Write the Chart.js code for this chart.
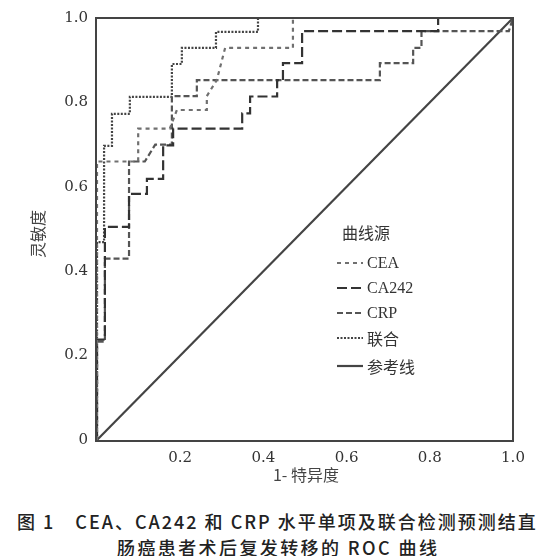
<!DOCTYPE html>
<html>
<head>
<meta charset="utf-8">
<script src="https://cdn.jsdelivr.net/npm/chart.js@4.4.1/dist/chart.umd.min.js"></script>
<style>
  body { margin: 0; background: #fff; width: 537px; height: 556px; position: relative; overflow: hidden; }
  #wrap { position: absolute; left: 0; top: 0; width: 537px; height: 490px; }
  .cap { position: absolute; font-family: "Noto Sans CJK SC", sans-serif; font-size: 18px; font-weight: 500;
         color: #222; white-space: pre; line-height: 20px; letter-spacing: 2px; }
</style>
</head>
<body>
<div id="wrap"><canvas id="roc" width="537" height="490"></canvas></div>
<div class="cap" id="cap1" style="left:17px; top:511px;">图 1　CEA、CA242 和 CRP 水平单项及联合检测预测结直</div>
<div class="cap" id="cap2" style="left:117px; top:537px; letter-spacing:2.4px;">肠癌患者术后复发转移的 ROC 曲线</div>
<script>
// ROC points (1-specificity, sensitivity)
const ceaX = [0, 0, 0.099, 0.099, 0.175, 0.192, 0.264, 0.264, 0.288, 0.308, 0.471, 0.471, 1];
const ceaY = [0, 0.66, 0.66, 0.738, 0.738, 0.782, 0.782, 0.815, 0.853, 0.929, 0.929, 1, 1];

const ca242X = [0, 0, 0.019, 0.019, 0.077, 0.077, 0.12, 0.12, 0.159, 0.159, 0.183, 0.183, 0.349, 0.349,
                0.368, 0.368, 0.433, 0.433, 0.447, 0.447, 0.493, 0.493, 0.82, 0.82, 1];
const ca242Y = [0, 0.238, 0.238, 0.505, 0.505, 0.583, 0.583, 0.619, 0.619, 0.698, 0.698, 0.738, 0.738, 0.774,
                0.774, 0.814, 0.814, 0.853, 0.853, 0.893, 0.893, 0.969, 0.969, 1, 1];

const crpX = [0, 0, 0.019, 0.019, 0.077, 0.077, 0.115, 0.14, 0.18, 0.18, 0.24, 0.24, 0.68, 0.68,
              0.76, 0.76, 0.78, 0.78, 0.99, 1];
const crpY = [0, 0.233, 0.233, 0.43, 0.43, 0.66, 0.66, 0.70, 0.70, 0.815, 0.815, 0.853, 0.853, 0.893,
              0.893, 0.929, 0.929, 0.969, 0.969, 1];

const combX = [0, 0, 0.017, 0.017, 0.036, 0.036, 0.079, 0.079, 0.18, 0.18, 0.204, 0.204, 0.286, 0.286, 0.387, 0.387, 1];
const combY = [0, 0.469, 0.469, 0.697, 0.697, 0.773, 0.773, 0.813, 0.813, 0.891, 0.891, 0.929, 0.929, 0.967, 0.967, 1, 1];

const refX = [0, 1];
const refY = [0, 1];

const seriesNames = ['CEA', 'CA242', 'CRP', '联合', '参考线'];
const xTicks = [0.2, 0.4, 0.6, 0.8, 1.0];
const yTicks = [0, 0.2, 0.4, 0.6, 0.8, 1.0];

const toPoints = (xs, ys) => xs.map((x, i) => ({ x: x, y: ys[i] }));

const styles = [
    { color: '#707070', dash: [4, 4] },
    { color: '#333', dash: [10, 4] },
    { color: '#555', dash: [6, 3] },
    { color: '#444', dash: [2, 1.5] },
    { color: '#444', dash: [] }
];

const pointSets = [
    toPoints(ceaX, ceaY),
    toPoints(ca242X, ca242Y),
    toPoints(crpX, crpY),
    toPoints(combX, combY),
    toPoints(refX, refY)
];

const datasets = pointSets.map((pts, i) => ({
    label: seriesNames[i],
    data: pts,
    borderColor: styles[i].color,
    borderDash: styles[i].dash,
    borderWidth: 2.2,
    pointRadius: 0,
    tension: 0,
    fill: false,
    clip: false,
    order: i === 4 ? 10 : i
}));

// frame, legend box and axis titles
const extras = {
    id: 'extras',
    afterDatasetsDraw(chart) {
        const { ctx, chartArea: a } = chart;
        ctx.save();
        ctx.setLineDash([]);
        ctx.strokeStyle = '#444';
        ctx.lineWidth = 2;
        ctx.strokeRect(a.left - 1, a.top, a.right - a.left + 1, a.bottom - a.top + 1);

        ctx.fillStyle = '#333';
        ctx.textBaseline = 'middle';
        ctx.textAlign = 'left';
        ctx.font = '16px "Noto Sans CJK SC"';
        ctx.fillText('曲线源', 342, 233);

        const rows = [263, 288, 313, 338, 366];
        seriesNames.forEach((name, i) => {
            ctx.strokeStyle = styles[i].color;
            ctx.setLineDash(styles[i].dash);
            ctx.lineWidth = 2.2;
            ctx.beginPath();
            ctx.moveTo(337, rows[i]);
            ctx.lineTo(363, rows[i]);
            ctx.stroke();
            ctx.setLineDash([]);
            ctx.font = /[A-Z]/.test(name) ? '16px "Liberation Serif"' : '16px "Noto Sans CJK SC"';
            ctx.fillText(name, 367, rows[i] + 1);
        });

        ctx.font = '16px "Noto Sans CJK SC"';
        ctx.fillStyle = '#444';
        ctx.textAlign = 'center';
        ctx.fillText('1- 特异度', 306, 475);

        ctx.translate(38, 234);
        ctx.rotate(-Math.PI / 2);
        ctx.fillText('灵敏度', 0, 0);
        ctx.restore();
    }
};

new Chart(document.getElementById('roc'), {
    type: 'line',
    data: { datasets: datasets },
    options: {
        responsive: false,
        animation: false,
        layout: { padding: { top: 18, right: 24, left: 0, bottom: 0 } },
        plugins: { legend: { display: false }, tooltip: { enabled: false } },
        scales: {
            x: {
                type: 'linear',
                min: 0,
                max: 1,
                afterFit: (s) => { s.height = 50; },
                afterBuildTicks: (s) => { s.ticks = xTicks.map(v => ({ value: v })); },
                grid: { display: false, drawTicks: false },
                border: { display: false },
                ticks: {
                    padding: 9,
                    color: '#333',
                    font: { family: "'DejaVu Serif'", size: 15 },
                    callback: (v) => v.toFixed(1)
                }
            },
            y: {
                type: 'linear',
                min: 0,
                max: 1,
                afterFit: (s) => { s.width = 97; },
                afterBuildTicks: (s) => { s.ticks = yTicks.map(v => ({ value: v })); },
                grid: { display: false, drawTicks: false },
                border: { display: false },
                ticks: {
                    padding: 9,
                    color: '#333',
                    font: { family: "'DejaVu Serif'", size: 15 },
                    callback: (v) => v === 0 ? '0' : v.toFixed(1)
                }
            }
        }
    },
    plugins: [extras]
});
</script>
</body>
</html>
